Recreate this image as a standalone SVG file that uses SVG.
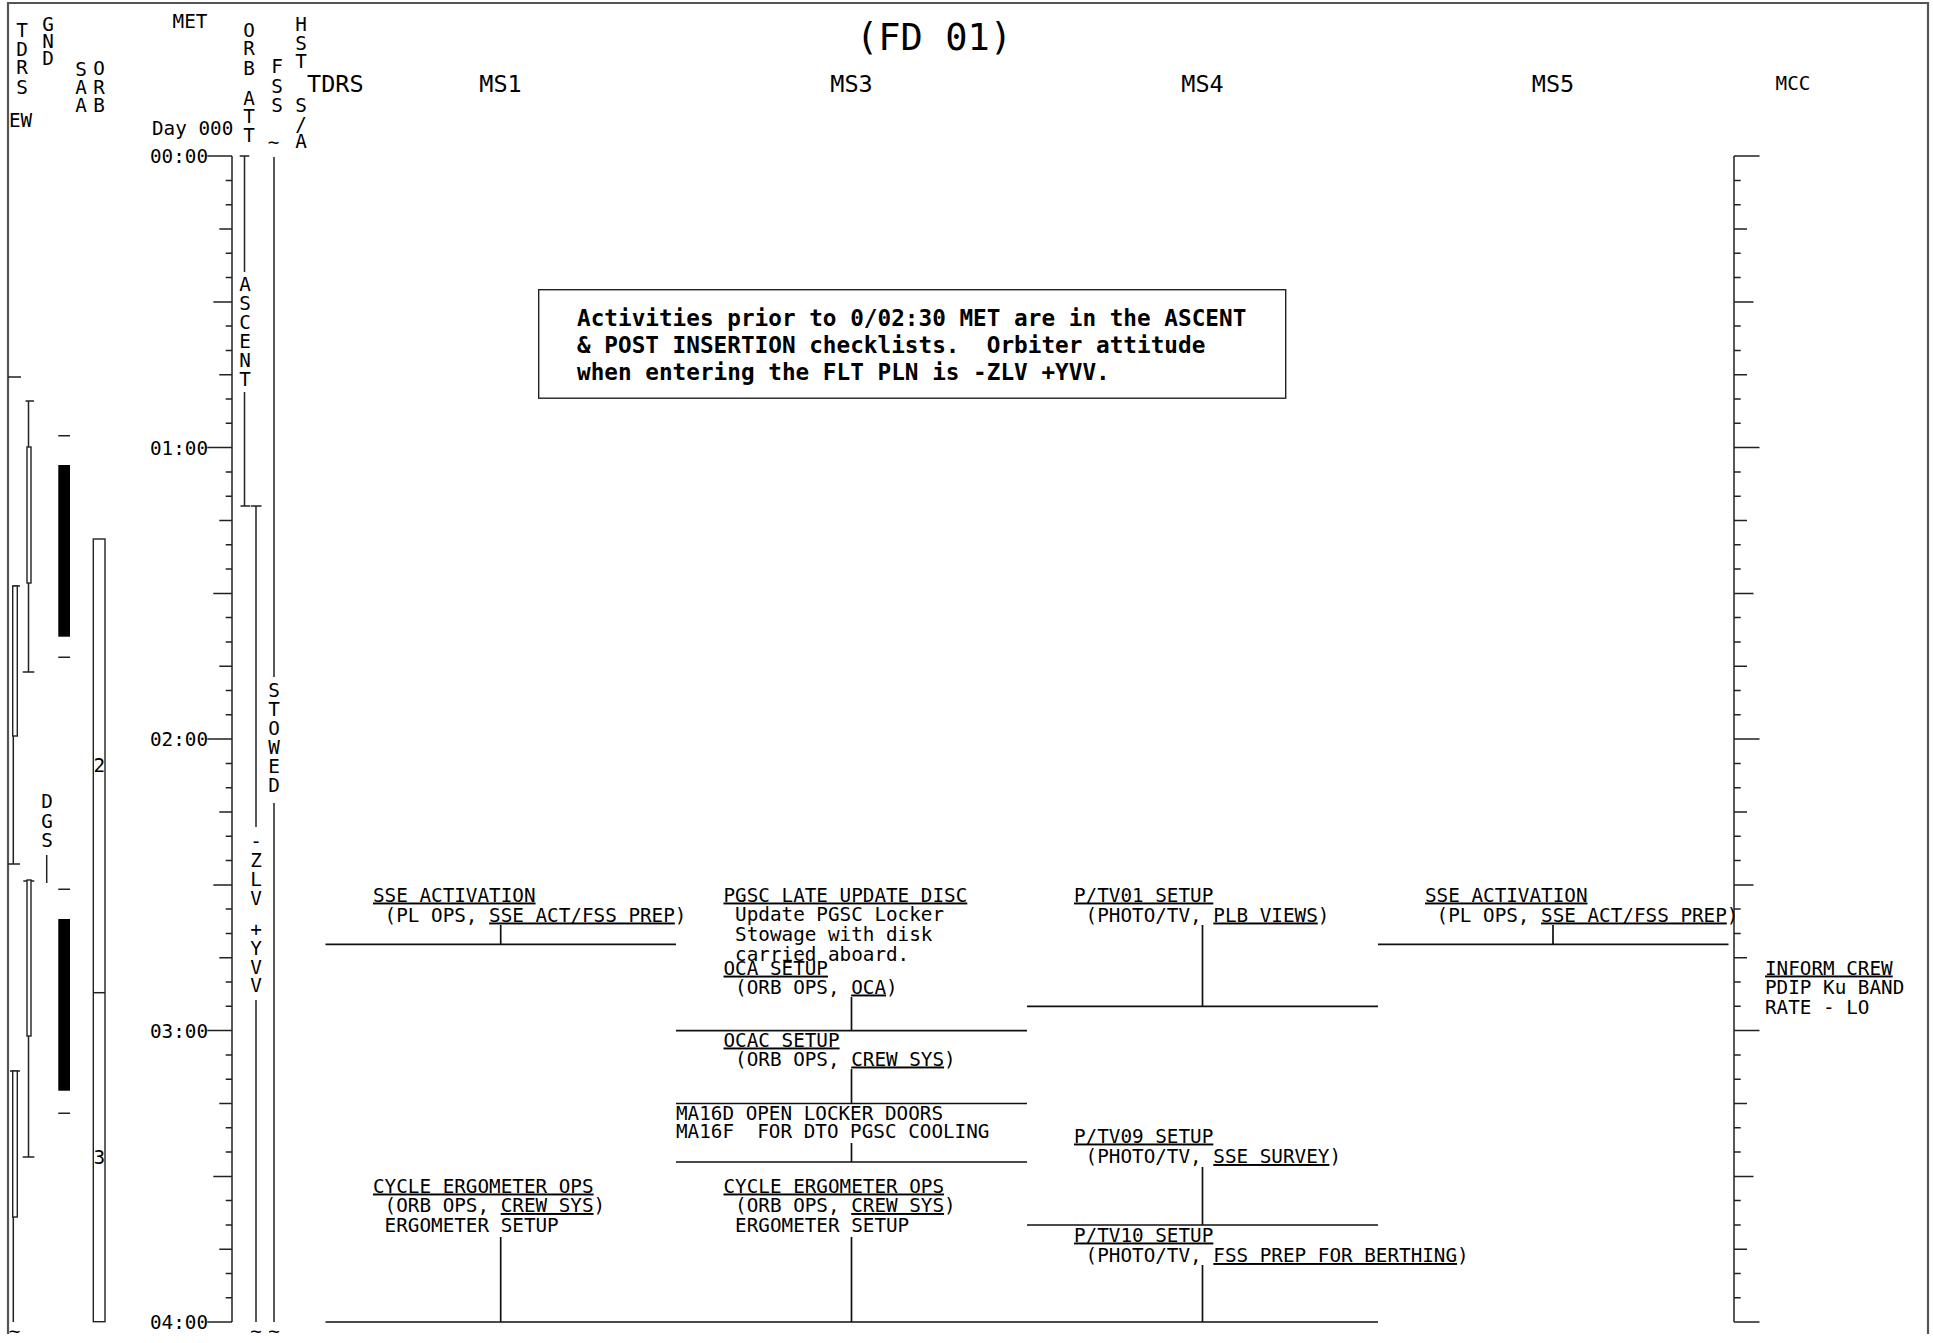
<svg xmlns="http://www.w3.org/2000/svg" width="1933" height="1343" viewBox="0 0 1933 1343">
<style>
text{font-family:"DejaVu Sans Mono","Liberation Mono",monospace;font-size:19.3px;fill:#000}
.c{text-anchor:middle}
.e{text-anchor:end}
.u{text-decoration:underline}
.hd{font-size:23.5px}
.ti{font-size:37px}
.b{font-weight:bold;font-size:22.7px}
.ln{fill:none;stroke:#111;stroke-width:1.7}
.tk{fill:none;stroke:#222;stroke-width:1.5}
.fr{fill:none;stroke:#555;stroke-width:2.2}
.bar{fill:#000}
.ob{fill:#fff;stroke:#222;stroke-width:1.4}
</style>
<rect width="1933" height="1343" fill="#fff"/>
<path class="fr" d="M8 1334V3H1928V1334"/>

<g id="title"><text class="ti c" x="934" y="50">(FD 01)</text></g>

<g id="column-headers">
<text class="hd" x="307" y="92">TDRS</text>
<text class="hd c" x="500.5" y="92">MS1</text>
<text class="hd c" x="851.5" y="92">MS3</text>
<text class="hd c" x="1202.5" y="92">MS4</text>
<text class="hd c" x="1553" y="92">MS5</text>
<text class="c" x="1793" y="90">MCC</text>
</g>

<g id="col-tdrs">
<text class="c"><tspan x="22" y="37">T</tspan><tspan x="22" y="55.7">D</tspan><tspan x="22" y="74.4">R</tspan><tspan x="22" y="94">S</tspan></text>
<text x="9" y="126.7">EW</text>
<path class="tk" d="M8 377H21M28.5 401V672M25.5 401H34M22.7 672H34.3M13.3 586V864M12.7 586H20M8 864H20M28.5 881V1157M23.3 881H34.3M22.7 1157H34.3M13.3 1071V1322M10 1071H20"/>
<rect class="ob" x="27" y="447" width="4" height="136"/>
<rect class="ob" x="12.7" y="586" width="4.6" height="150"/>
<rect class="ob" x="27" y="880" width="4" height="156"/>
<rect class="ob" x="12.7" y="1071" width="4.6" height="146"/>
<text class="c" x="14.5" y="1338">~</text>
</g>

<g id="col-gnd">
<text class="c"><tspan x="48" y="30.7">G</tspan><tspan x="48" y="47.5">N</tspan><tspan x="48" y="65">D</tspan></text>
<text class="c"><tspan x="47" y="808">D</tspan><tspan x="47" y="828">G</tspan><tspan x="47" y="847">S</tspan></text>
<path class="tk" d="M46.7 855V883"/>
</g>

<g id="col-saa">
<text class="c"><tspan x="81" y="76">S</tspan><tspan x="81" y="94">A</tspan><tspan x="81" y="111.7">A</tspan></text>
<path class="tk" d="M58.3 435.7H70M58.3 657.3H70M58.3 889.3H70M58.3 1113.3H70"/>
<rect class="bar" x="58.3" y="465" width="11.7" height="171.7"/>
<rect class="bar" x="58.3" y="919" width="11.7" height="171.7"/>
</g>

<g id="col-orb">
<text class="c"><tspan x="99" y="75">O</tspan><tspan x="99" y="94">R</tspan><tspan x="99" y="111.7">B</tspan></text>
<rect class="ob" x="93.3" y="539" width="11.7" height="782.7"/>
<path class="tk" d="M93.3 992.7H105"/>
<text class="c" x="99.3" y="772">2</text>
<text class="c" x="99.3" y="1164">3</text>
</g>

<g id="axis-met">
<text class="c" x="190" y="28">MET</text>
<text x="152" y="135">Day 000</text>
<text class="e" x="208" y="163.1">00:00</text>
<text class="e" x="208" y="454.6">01:00</text>
<text class="e" x="208" y="746.1">02:00</text>
<text class="e" x="208" y="1037.6">03:00</text>
<text class="e" x="208" y="1329.1">04:00</text>
<path class="tk" d="M232 156.1V1322.1M207.3 156.1H232M225.7 180.4H232M225.7 204.7H232M219.3 229H232M225.7 253.3H232M225.7 277.6H232M213.3 301.9H232M225.7 326.1H232M225.7 350.4H232M219.3 374.7H232M225.7 399H232M225.7 423.3H232M207.3 447.6H232M225.7 471.9H232M225.7 496.2H232M219.3 520.5H232M225.7 544.8H232M225.7 569.1H232M213.3 593.4H232M225.7 617.6H232M225.7 641.9H232M219.3 666.2H232M225.7 690.5H232M225.7 714.8H232M207.3 739.1H232M225.7 763.4H232M225.7 787.7H232M219.3 812H232M225.7 836.3H232M225.7 860.6H232M213.3 884.9H232M225.7 909.1H232M225.7 933.4H232M219.3 957.7H232M225.7 982H232M225.7 1006.3H232M207.3 1030.6H232M225.7 1054.9H232M225.7 1079.2H232M219.3 1103.5H232M225.7 1127.8H232M225.7 1152.1H232M213.3 1176.4H232M225.7 1200.6H232M225.7 1224.9H232M219.3 1249.2H232M225.7 1273.5H232M225.7 1297.8H232M207.3 1322.1H232"/>
</g>

<g id="col-orb-att">
<text class="c"><tspan x="249" y="36.7">O</tspan><tspan x="249" y="55">R</tspan><tspan x="249" y="75">B</tspan><tspan x="249" y="105">A</tspan><tspan x="249" y="123.3">T</tspan><tspan x="249" y="141.7">T</tspan></text>
<path class="tk" d="M244.5 156.1V272M244.5 392V506M239.7 156.1H249.3M240.5 506H250M256 506V827M256 1000V1322M250.7 506H261.5"/>
<text class="c"><tspan x="245" y="291">A</tspan><tspan x="245" y="310">S</tspan><tspan x="245" y="329">C</tspan><tspan x="245" y="348">E</tspan><tspan x="245" y="367">N</tspan><tspan x="245" y="386">T</tspan></text>
<text class="c"><tspan x="256" y="848">-</tspan><tspan x="256" y="867">Z</tspan><tspan x="256" y="886">L</tspan><tspan x="256" y="905">V</tspan><tspan x="256" y="936">+</tspan><tspan x="256" y="955">Y</tspan><tspan x="256" y="973.5">V</tspan><tspan x="256" y="992">V</tspan></text>
<text class="c" x="256" y="1338">~</text>
</g>

<g id="col-fss">
<text class="c"><tspan x="277" y="73.3">F</tspan><tspan x="277" y="93.3">S</tspan><tspan x="277" y="111.7">S</tspan></text>
<text class="c" x="273.5" y="149">~</text>
<path class="tk" d="M274 157V677M274 803V1322"/>
<text class="c"><tspan x="274" y="697">S</tspan><tspan x="274" y="716">T</tspan><tspan x="274" y="735">O</tspan><tspan x="274" y="754">W</tspan><tspan x="274" y="773">E</tspan><tspan x="274" y="792">D</tspan></text>
<text class="c" x="274" y="1338">~</text>
</g>

<g id="col-hst">
<text class="c"><tspan x="301" y="30.7">H</tspan><tspan x="301" y="50">S</tspan><tspan x="301" y="68.3">T</tspan><tspan x="301" y="111.7">S</tspan><tspan x="301" y="131">/</tspan><tspan x="301" y="148.3">A</tspan></text>
</g>

<g id="axis-mcc">
<path class="tk" d="M1734 156.1V1322.1M1734 156.1H1759.5M1734 180.4H1740.7M1734 204.7H1740.7M1734 229H1747M1734 253.3H1740.7M1734 277.6H1740.7M1734 301.9H1753.5M1734 326.1H1740.7M1734 350.4H1740.7M1734 374.7H1747M1734 399H1740.7M1734 423.3H1740.7M1734 447.6H1759.5M1734 471.9H1740.7M1734 496.2H1740.7M1734 520.5H1747M1734 544.8H1740.7M1734 569.1H1740.7M1734 593.4H1753.5M1734 617.6H1740.7M1734 641.9H1740.7M1734 666.2H1747M1734 690.5H1740.7M1734 714.8H1740.7M1734 739.1H1759.5M1734 763.4H1740.7M1734 787.7H1740.7M1734 812H1747M1734 836.3H1740.7M1734 860.6H1740.7M1734 884.9H1753.5M1734 909.1H1740.7M1734 933.4H1740.7M1734 957.7H1747M1734 982H1740.7M1734 1006.3H1740.7M1734 1030.6H1759.5M1734 1054.9H1740.7M1734 1079.2H1740.7M1734 1103.5H1747M1734 1127.8H1740.7M1734 1152.1H1740.7M1734 1176.4H1753.5M1734 1200.6H1740.7M1734 1224.9H1740.7M1734 1249.2H1747M1734 1273.5H1740.7M1734 1297.8H1740.7M1734 1322.1H1759.5"/>
</g>

<g id="note">
<rect class="ob" x="538.7" y="289.7" width="747" height="108.5"/>
<text class="b" x="577" y="326">Activities prior to 0/02:30 MET are in the ASCENT</text>
<text class="b" x="577" y="353" xml:space="preserve">&amp; POST INSERTION checklists.  Orbiter attitude</text>
<text class="b" x="577" y="380">when entering the FLT PLN is -ZLV +YVV.</text>
</g>

<g id="ms1-sse-activation">
<text class="u" x="373" y="901.5">SSE ACTIVATION</text>
<text x="384.6" y="921.5">(PL OPS, <tspan class="u">SSE ACT/FSS PREP</tspan>)</text>
</g>
<g id="ms1-cycle-ergometer">
<text class="u" x="373" y="1192.5">CYCLE ERGOMETER OPS</text>
<text x="384.6" y="1212">(ORB OPS, <tspan class="u">CREW SYS</tspan>)</text>
<text x="384.6" y="1231.5">ERGOMETER SETUP</text>
</g>

<g id="ms3-pgsc-late-update">
<text class="u" x="723.5" y="901.5">PGSC LATE UPDATE DISC</text>
<text x="735.1" y="921.2">Update PGSC Locker</text>
<text x="735.1" y="940.9">Stowage with disk</text>
<text x="735.1" y="960.6">carried aboard.</text>
</g>
<g id="ms3-oca-setup">
<text class="u" x="723.5" y="974.6">OCA SETUP</text>
<text x="735.1" y="993.5">(ORB OPS, <tspan class="u">OCA</tspan>)</text>
</g>
<g id="ms3-ocac-setup">
<text class="u" x="723.5" y="1046.5">OCAC SETUP</text>
<text x="735.1" y="1065.5">(ORB OPS, <tspan class="u">CREW SYS</tspan>)</text>
</g>
<g id="ms3-ma16d">
<text x="676" y="1119.5">MA16D OPEN LOCKER DOORS</text>
<text x="676" y="1138" xml:space="preserve">MA16F  FOR DTO PGSC COOLING</text>
</g>
<g id="ms3-cycle-ergometer">
<text class="u" x="723.5" y="1192.5">CYCLE ERGOMETER OPS</text>
<text x="735.1" y="1212">(ORB OPS, <tspan class="u">CREW SYS</tspan>)</text>
<text x="735.1" y="1231.5">ERGOMETER SETUP</text>
</g>

<g id="ms4-ptv01-setup">
<text class="u" x="1074" y="901.5">P/TV01 SETUP</text>
<text x="1085.6" y="921.5">(PHOTO/TV, <tspan class="u">PLB VIEWS</tspan>)</text>
</g>
<g id="ms4-ptv09-setup">
<text class="u" x="1074" y="1142.5">P/TV09 SETUP</text>
<text x="1085.6" y="1163">(PHOTO/TV, <tspan class="u">SSE SURVEY</tspan>)</text>
</g>
<g id="ms4-ptv10-setup">
<text class="u" x="1074" y="1241.5">P/TV10 SETUP</text>
<text x="1085.6" y="1262">(PHOTO/TV, <tspan class="u">FSS PREP FOR BERTHING</tspan>)</text>
</g>

<g id="ms5-sse-activation">
<text class="u" x="1425" y="901.5">SSE ACTIVATION</text>
<text x="1436.6" y="921.5">(PL OPS, <tspan class="u">SSE ACT/FSS PREP</tspan>)</text>
</g>

<g id="mcc-inform-crew">
<text class="u" x="1765" y="974.5">INFORM CREW</text>
<text x="1765" y="994">PDIP Ku BAND</text>
<text x="1765" y="1013.5">RATE - LO</text>
</g>

<g id="connectors">
<path class="ln" d="M500.7 925V944.3M325.5 944.3H676"/>
<path class="ln" d="M1553 925V944.3M1378 944.3H1728.5"/>
<path class="ln" d="M1202.5 925V1006.3M1027 1006.3H1378"/>
<path class="ln" d="M851.5 997V1030.6M676 1030.6H1027"/>
<path class="ln" d="M851.5 1069V1103.5M676 1103.5H1027"/>
<path class="ln" d="M851.5 1143V1162M676 1162H1027"/>
<path class="ln" d="M1202.5 1167V1225M1027 1225H1378"/>
<path class="ln" d="M500.7 1237V1322M851.5 1237V1322M1202.5 1265V1322M325.5 1322H1378"/>
</g>
</svg>
